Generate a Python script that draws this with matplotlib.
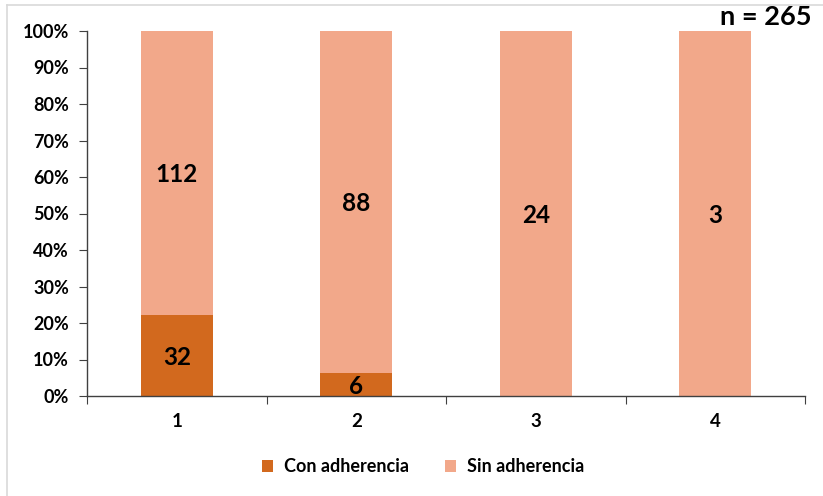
import matplotlib.pyplot as plt
from matplotlib.lines import Line2D
from matplotlib.ticker import PercentFormatter

plt.rcParams['font.family'] = ['Lato', 'DejaVu Sans']
plt.rcParams['font.weight'] = 'bold'

categories = ["1", "2", "3", "4"]
con_adherencia = [32, 6, 0, 0]
sin_adherencia = [112, 88, 24, 3]
total_n = 265

dark = "#D2691E"
light = "#F2A88A"

totals = [c + s for c, s in zip(con_adherencia, sin_adherencia)]
con_pct = [100 * c / t for c, t in zip(con_adherencia, totals)]
sin_pct = [100 * s / t for s, t in zip(sin_adherencia, totals)]

fig = plt.figure(figsize=(8.23, 4.96), dpi=100)
ax = fig.add_axes([87 / 823, 1 - 396 / 496, (805 - 87) / 823, (396 - 31) / 496])

x = list(range(1, len(categories) + 1))
w = 0.4
ax.bar(x, con_pct, width=w, color=dark, label="Con adherencia")
ax.bar(x, sin_pct, width=w, bottom=con_pct, color=light, label="Sin adherencia")

# counts written in the middle of each segment
for xi, c, cp, s, sp in zip(x, con_adherencia, con_pct, sin_adherencia, sin_pct):
    if c > 0:
        ax.text(xi, cp / 2, str(c), ha="center", va="center_baseline", fontsize=17.5, fontweight="bold")
    if s > 0:
        ax.text(xi, cp + sp / 2, str(s), ha="center", va="center_baseline", fontsize=17.5, fontweight="bold")

ax.set_xlim(0.5, len(categories) + 0.5)
ax.set_ylim(0, 100)
ax.set_yticks(range(0, 101, 10))
ax.yaxis.set_major_formatter(PercentFormatter(decimals=0))

# separators between categories as major ticks, labels on minor ticks
ax.set_xticks([i + 0.5 for i in range(len(categories) + 1)])
ax.set_xticklabels([])
ax.set_xticks(x, minor=True)
ax.set_xticklabels(categories, minor=True, fontsize=13.5)
ax.tick_params(axis="x", which="major", length=6, direction="out", color="#404040")
ax.tick_params(axis="x", which="minor", length=0, pad=12)
ax.tick_params(axis="y", length=6, direction="out", color="#404040", labelsize=13, pad=7)

for side in ["top", "right"]:
    ax.spines[side].set_visible(False)
for side in ["left", "bottom"]:
    ax.spines[side].set_color("#404040")
    ax.spines[side].set_linewidth(1)

fig.legend(loc="center", bbox_to_anchor=(423 / 823, 1 - 467 / 496), ncol=2, frameon=False,
           fontsize=13, handlelength=0.6, handleheight=0.6, columnspacing=2.0, handletextpad=0.6)

fig.text(812 / 823, 1 - 17 / 496, f"n = {total_n}", ha="right", va="center",
         fontsize=19.5, fontweight="bold")

# thin grey frame on the left and top edges
fig.add_artist(Line2D([7 / 823, 7 / 823], [0, 1 - 5 / 496], color="#D9D9D9", lw=1.2))
fig.add_artist(Line2D([7 / 823, 1], [1 - 5 / 496, 1 - 5 / 496], color="#D9D9D9", lw=1.2))

fig.savefig("out.png", dpi=100)
